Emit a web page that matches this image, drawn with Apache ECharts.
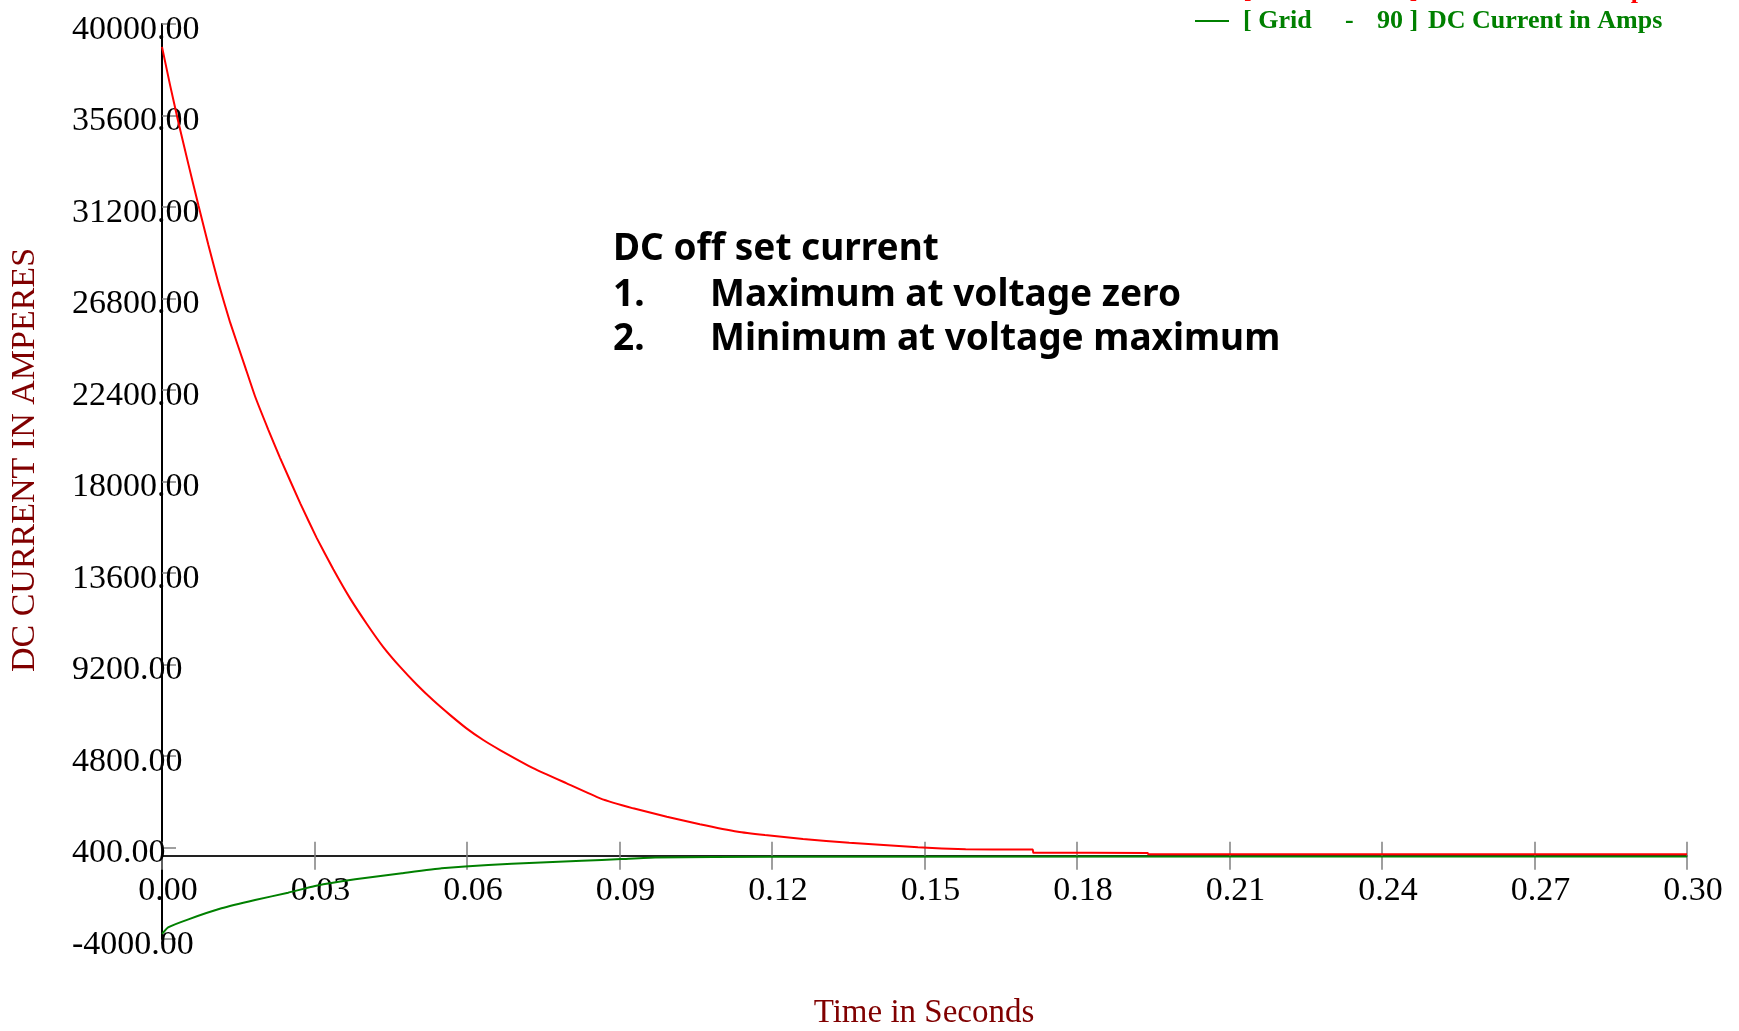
<!DOCTYPE html>
<html>
<head>
<meta charset="utf-8">
<script src="https://cdn.jsdelivr.net/npm/echarts@6/dist/echarts.min.js"></script>
<style>
html,body{margin:0;padding:0;background:#fff;}
#c{width:1739px;height:1031px;}
</style>
</head>
<body>
<div id="c"></div>
<script>
// Time (s) and DC current (A)
const redTime = [0, 0.0016, 0.0032, 0.0052, 0.0072, 0.0091, 0.0111, 0.0134, 0.0163, 0.0183, 0.0209, 0.0232, 0.0272, 0.0304, 0.0337, 0.0370, 0.0403, 0.0435, 0.0468, 0.0501, 0.0534, 0.0567, 0.0599, 0.0632, 0.0665, 0.0731, 0.0796, 0.0862, 0.0927, 0.0993, 0.1058, 0.1133, 0.1186, 0.1261, 0.1352, 0.1487, 0.1581, 0.1713, 0.1714, 0.1939, 0.1940, 0.3000];
const redValue = [38900, 37050, 35300, 33250, 31250, 29400, 27550, 25650, 23550, 22100, 20500, 19150, 16950, 15300, 13780, 12380, 11150, 10050, 9094, 8240, 7465, 6765, 6130, 5568, 5087, 4207, 3486, 2764, 2283, 1880, 1520, 1159, 1000, 808, 630, 409, 313, 300, 150, 140, 80, 80];
const greenTime = [0, 0.0012, 0.0052, 0.0117, 0.0183, 0.0248, 0.0301, 0.0380, 0.0472, 0.0550, 0.0642, 0.0734, 0.0826, 0.0904, 0.0970, 0.1200, 0.3000];
const greenValue = [-3750, -3439, -3054, -2525, -2126, -1775, -1452, -1130, -842, -601, -442, -332, -236, -154, -80, -40, -30];
const yMin = -4000, yMax = 40000, yStep = 4400;
const xMin = 0, xMax = 0.30, xStep = 0.03;
const yTitle = 'DC CURRENT IN AMPERES';
const xTitle = 'Time in Seconds';
const noteLines = ['DC off set current', '1.', 'Maximum at voltage zero', '2.', 'Minimum at voltage maximum'];

const serif = '"Liberation Serif", "Times New Roman", serif';
const W = 1739, H = 1031;
const gTop = 24, gBottom = 92, gLeft = 162, gRight = 52;
const gH = H - gTop - gBottom;
// distance of the value-0 line from the grid bottom, so the time axis crosses at 0 A
const zeroUp = (0 - yMin) / (yMax - yMin) * gH;

const chart = echarts.init(document.getElementById('c'), null, {renderer: 'canvas'});
const toPairs = (t, v) => t.map((x, i) => [x, v[i]]);
const noteFont = 'bold 37px "Noto Sans", sans-serif';
const legFont = 'bold 26px ' + serif;
const tickStyle = {color: '#808080', width: 1.5};

chart.setOption({
  animation: false,
  backgroundColor: '#ffffff',
  grid: {left: gLeft, right: gRight, top: gTop, bottom: gBottom, containLabel: false},
  xAxis: [{
    type: 'value', min: xMin, max: xMax, interval: xStep, position: 'bottom', offset: -zeroUp,
    axisLine: {onZero: false, lineStyle: {color: '#222', width: 2}},
    axisTick: {show: true, length: 14, lineStyle: tickStyle},
    axisLabel: {show: true, margin: 18, color: '#000', fontFamily: serif, fontSize: 34,
      padding: [0, 0, 0, 12], formatter: v => v.toFixed(2), showMaxLabel: true, showMinLabel: true},
    splitLine: {show: false}
  }, {
    type: 'value', min: xMin, max: xMax, interval: xStep, position: 'top', offset: -(gH - zeroUp),
    axisLine: {show: false, onZero: false},
    axisTick: {show: true, length: 14, lineStyle: tickStyle},
    axisLabel: {show: false},
    splitLine: {show: false}
  }],
  yAxis: {
    type: 'value', min: yMin, max: yMax, interval: yStep,
    axisLine: {show: true, onZero: false, lineStyle: {color: '#000', width: 2}},
    axisTick: {show: true, inside: true, length: 14, lineStyle: tickStyle},
    axisLabel: {show: true, align: 'left', margin: 90, color: '#000', fontFamily: serif, fontSize: 34,
      verticalAlign: 'top', lineHeight: 12, formatter: v => v.toFixed(2)},
    splitLine: {show: false}
  },
  series: [{
    name: '[ Grid - 90 ] DC Current in Amps', type: 'line', data: toPairs(greenTime, greenValue),
    showSymbol: false, smooth: 0.12,
    lineStyle: {color: '#008000', width: 2}, itemStyle: {color: '#008000'}, z: 3
  }, {
    name: '[ Grid - 0 ] DC Current in Amps', type: 'line', data: toPairs(redTime, redValue),
    showSymbol: false, smooth: 0.12,
    lineStyle: {color: '#ff0000', width: 2}, itemStyle: {color: '#ff0000'}, z: 4
  }],
  graphic: [
    // partially visible red legend entry (cut at top)
    {type: 'text', x: 1243, y: -9, style: {text: '[ Grid', font: legFont, fill: '#ff0000', textVerticalAlign: 'middle'}},
    {type: 'text', x: 1345, y: -9, style: {text: '-', font: legFont, fill: '#ff0000', textVerticalAlign: 'middle'}},
    {type: 'text', x: 1390, y: -9, style: {text: '0 ]', font: legFont, fill: '#ff0000', textVerticalAlign: 'middle'}},
    {type: 'text', x: 1421, y: -9, style: {text: 'DC Current in Amps', font: legFont, fill: '#ff0000', textVerticalAlign: 'middle'}},
    // green legend entry
    {type: 'line', shape: {x1: 1195, y1: 21, x2: 1229, y2: 21}, style: {stroke: '#008000', lineWidth: 2}},
    {type: 'text', x: 1243, y: 21, style: {text: '[ Grid', font: legFont, fill: '#008000', textVerticalAlign: 'middle'}},
    {type: 'text', x: 1345, y: 21, style: {text: '-', font: legFont, fill: '#008000', textVerticalAlign: 'middle'}},
    {type: 'text', x: 1377, y: 21, style: {text: '90 ]', font: legFont, fill: '#008000', textVerticalAlign: 'middle'}},
    {type: 'text', x: 1428, y: 21, style: {text: 'DC Current in Amps', font: legFont, fill: '#008000', textVerticalAlign: 'middle'}},
    // axis titles
    {type: 'text', x: 25, y: 460, rotation: Math.PI / 2,
      style: {text: yTitle, font: '34px ' + serif, fill: '#800000', textAlign: 'center', textVerticalAlign: 'middle'}},
    {type: 'text', x: 924, y: 1013,
      style: {text: xTitle, font: '33px ' + serif, fill: '#800000', textAlign: 'center', textVerticalAlign: 'middle'}},
    // annotation
    {type: 'text', x: 613, y: 249, style: {text: noteLines[0], font: noteFont, fill: '#000', textVerticalAlign: 'middle'}},
    {type: 'text', x: 613, y: 295, style: {text: noteLines[1], font: noteFont, fill: '#000', textVerticalAlign: 'middle'}},
    {type: 'text', x: 710, y: 295, style: {text: noteLines[2], font: noteFont, fill: '#000', textVerticalAlign: 'middle'}},
    {type: 'text', x: 613, y: 339, style: {text: noteLines[3], font: noteFont, fill: '#000', textVerticalAlign: 'middle'}},
    {type: 'text', x: 710, y: 339, style: {text: noteLines[4], font: noteFont, fill: '#000', textVerticalAlign: 'middle'}}
  ]
});
</script>
</body>
</html>
